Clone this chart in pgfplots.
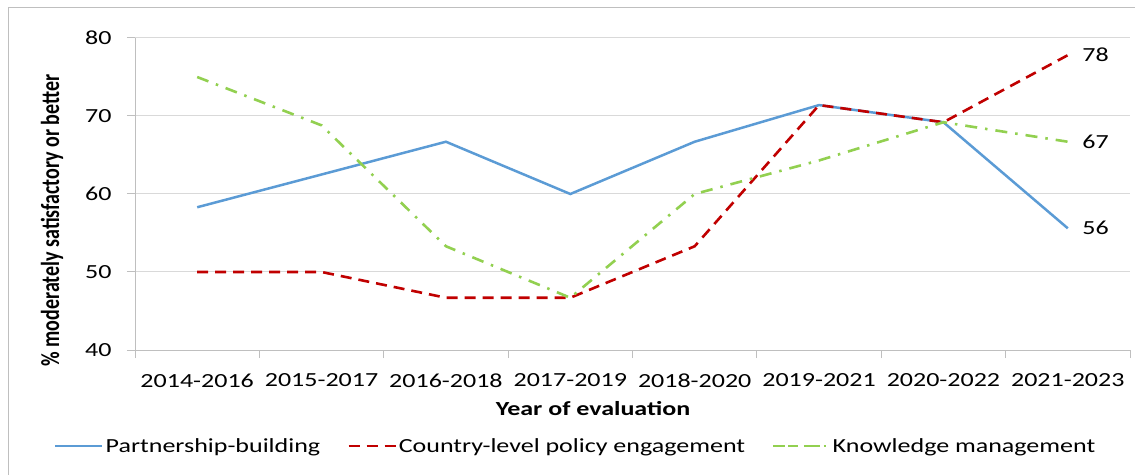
\documentclass[border=0pt]{standalone}
\usepackage{fontspec}
\setmainfont{Carlito}[FakeStretch=1.3]
\newfontfamily\plainfont{Carlito}
\usepackage{graphicx}
\usepackage{pgfplots}
\pgfplotsset{compat=1.18}
\definecolor{cblue}{HTML}{5B9BD5}
\definecolor{cred}{HTML}{C00000}
\definecolor{cgreen}{HTML}{92D050}
\definecolor{cgrid}{HTML}{D9D9D9}
\definecolor{caxis}{HTML}{BFBFBF}
\newcommand{\fs}{\fontsize{20}{24}\selectfont}
\begin{document}
\begin{tikzpicture}
\path[use as bounding box] (0,0) rectangle (1135pt,474pt);
\draw[caxis, line width=1pt] (8pt,-5pt) -- (8pt,466pt) -- (1140pt,466pt);
\begin{axis}[
  at={(135pt,124pt)}, anchor=south west,
  scale only axis, width=995pt, height=312pt,
  xmin=-0.5, xmax=7.5, ymin=40, ymax=80,
  axis x line*=bottom, axis y line*=left,
  axis line style={caxis, line width=1pt},
  xtick={-0.5,0.5,...,7.5}, xticklabels={},
  extra x ticks={0,1,2,3,4,5,6,7},
  extra x tick labels={2014-2016,2015-2017,2016-2018,2017-2019,2018-2020,2019-2021,2020-2022,2021-2023},
  extra x tick style={major tick length=0pt, grid=none, xticklabel style={yshift=-20pt}},
  ytick={40,50,60,70,80},
  yticklabel style={xshift=-12pt},
  tick align=outside,
  major tick length=8pt,
  tick style={caxis, line width=1pt},
  ymajorgrids, grid style={cgrid, line width=1pt},
  ticklabel style={font=\fs, text=black},
  /pgf/number format/assume math mode=true,
  clip=false,
  legend style={draw=none, fill=none, font=\fs, at={(-0.0844,-0.3077)}, anchor=west,
    legend columns=3,
    /tikz/every even column/.append style={column sep=25pt}},
  legend image code/.code={\draw[#1] (0pt,0pt) -- (47pt,0pt);},
]
\addplot[cblue, line width=2.5pt] coordinates {(0,58.3) (1,62.5) (2,66.7) (3,60.0) (4,66.7) (5,71.4) (6,69.2) (7,55.6)}
  node[pos=1, anchor=west, xshift=10pt, font=\fs, text=black] {56};
\addlegendentry{Partnership-building}
\addplot[cred, line width=2.6pt, dash pattern=on 11pt off 7pt] coordinates {(0,50.0) (1,50.0) (2,46.7) (3,46.7) (4,53.3) (5,71.4) (6,69.2) (7,77.8)}
  node[pos=1, anchor=west, xshift=10pt, font=\fs, text=black] {78};
\addlegendentry{Country-level policy engagement}
\addplot[cgreen, line width=2.6pt, dash pattern=on 12pt off 8pt on 2.5pt off 8pt,
  legend image code/.code={\path (0pt,0pt) -- (56pt,0pt); \draw[cgreen, line width=2.6pt, dash pattern=on 10pt off 6pt on 2.5pt off 6pt] (15pt,0pt) -- (47pt,0pt);}] coordinates {(0,75.0) (1,68.8) (2,53.3) (3,46.7) (4,60.0) (5,64.3) (6,69.2) (7,66.7)}
  node[pos=1, anchor=west, xshift=10pt, font=\fs, text=black] {67};
\addlegendentry{Knowledge management}
\end{axis}
\node[anchor=base, font=\fs\bfseries] at (593pt,59pt) {Year of evaluation};
\node at (52pt,253.5pt) {\scalebox{1.3}[1]{\rotatebox{90}{\plainfont\fs\bfseries \% moderately satisfactory or better}}};
\end{tikzpicture}
\end{document}
